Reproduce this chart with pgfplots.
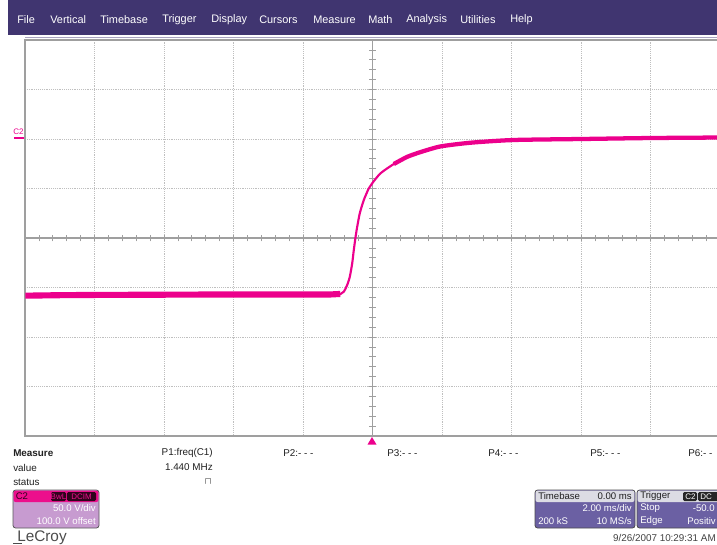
\documentclass[border=0pt]{standalone}
\usepackage{pgfplots}
\pgfplotsset{compat=1.18}
\usepackage{fontspec}
\setmainfont{Liberation Sans}
\definecolor{menu}{HTML}{403570}
\definecolor{trace}{HTML}{EC008C}
\definecolor{lilac}{HTML}{C79BD0}
\definecolor{pinkhdr}{HTML}{EC0F8C}
\definecolor{tbbody}{HTML}{6B60A3}
\definecolor{tbhdr}{HTML}{DCDCE4}
\definecolor{txt}{HTML}{202020}
\begin{document}
\begin{tikzpicture}
\begin{scope}[x=0.75pt,y=-0.75pt]
\fill[white] (0,0) rectangle (717,544);
\fill[menu] (8,0) rectangle (725,35);
\foreach \xx/\tt in {17/File,50/Vertical,100/Timebase,162/Trigger,211/Display,259/Cursors,313/Measure,368/Math,406/Analysis,460/Utilities,510/Help}
  \node[anchor=west,text=white,inner sep=0,font=\fontsize{8.2}{10}\selectfont] at (\xx,20) {\tt};
\draw[menu!45,line width=0.9pt] (25,37.5) -- (725,37.5);
\end{scope}
\begin{axis}[
  at={(18.75pt,-327pt)}, anchor=south west,
  width=521.25pt, height=297pt, scale only axis,
  xmin=-10, xmax=10, ymin=-4, ymax=4,
  xtick={-10,-8,...,10}, ytick={-4,-3,...,4},
  xticklabels={}, yticklabels={},
  major tick length=0pt,
  grid=major,
  major grid style={densely dotted, gray!50, line width=0.6pt},
  axis line style={gray!75, line width=0.9pt},
]
\draw[gray!75, line width=0.8pt] (axis cs:-10,0) -- (axis cs:10,0);
\draw[gray!75, line width=0.8pt] (axis cs:0,-4) -- (axis cs:0,4);
\pgfplotsinvokeforeach{-9.6,-9.2,...,9.7}{\draw[gray!75,line width=0.6pt] (axis cs:#1,-0.07) -- (axis cs:#1,0.07);}
\pgfplotsinvokeforeach{-3.8,-3.6,...,3.9}{\draw[gray!75,line width=0.6pt] (axis cs:-0.09,#1) -- (axis cs:0.09,#1);}
% low level
\addplot[trace, line width=4.6pt, line cap=butt] coordinates {
(-9.99,-1.165) (-9.0,-1.155) (-8,-1.15) (-6,-1.145) (-4,-1.14) (-2,-1.14) (-1.2,-1.14) (-0.93,-1.13)
};
% rise
\addplot[trace, line width=1.6pt, smooth, tension=0.4] coordinates {
(-1.2,-1.14) (-0.921,-1.131) (-0.826,-1.085) (-0.728,-0.949) (-0.653,-0.782) (-0.584,-0.511)
(-0.538,-0.242) (-0.489,0.014) (-0.440,0.228) (-0.366,0.499) (-0.250,0.768) (-0.106,1.004)
(-0.009,1.105) (0.230,1.307) (0.613,1.495) (1.0,1.64) (1.4,1.74) (1.957,1.85)
};
% high level
\addplot[trace, line width=3.2pt, smooth, tension=0.4] coordinates {
(0.613,1.495) (1.0,1.64) (1.4,1.74) (1.957,1.85) (2.82,1.925) (4.06,1.98) (6,2.0) (8,2.02) (10,2.03)
};
\end{axis}
\begin{scope}[x=0.75pt,y=-0.75pt]
% trigger marker
\fill[trace] (367.5,444.5) -- (376.5,444.5) -- (372,437) -- cycle;
% C2 marker
\node[text=trace,inner sep=0,font=\fontsize{6}{7}\selectfont] at (18.5,131.5) {C2};
\draw[trace,line width=1.5pt] (14,138) -- (24,138);
% measure table
\begin{scope}[every node/.style={inner sep=0,text=txt,font=\fontsize{7.4}{9}\selectfont}]
\node[anchor=west,font=\fontsize{7.4}{9}\selectfont\bfseries] at (13,453) {Measure};
\node[anchor=west] at (13,467.5) {value};
\node[anchor=west] at (13,482) {status};
\node[anchor=east] at (213,453) {P1:freq(C1)};
\node[anchor=east] at (213,467.5) {1.440 MHz};
\node[anchor=east] at (212,482) {$\sqcap$};
\node[anchor=west] at (283,453) {P2:- - -};
\node[anchor=west] at (387,453) {P3:- - -};
\node[anchor=west] at (488,453) {P4:- - -};
\node[anchor=west] at (590,453) {P5:- - -};
\node[anchor=west] at (688,453) {P6:- -};
\node[anchor=east,text=txt!85] at (716,538) {9/26/2007 10:29:31 AM};
\end{scope}
% C2 box
\draw[fill=lilac,draw=gray!70!black,rounded corners=2pt,line width=0.6pt] (13,490) rectangle (99,528);
\fill[pinkhdr,rounded corners=1.5pt] (13.6,490.6) rectangle (98.4,502);
\fill[black!80!pinkhdr,rounded corners=1pt] (51,492) rectangle (66,501);
\fill[black!80!pinkhdr,rounded corners=1pt] (67,492) rectangle (96,501);
\begin{scope}[every node/.style={inner sep=0,font=\fontsize{7.2}{9}\selectfont}]
\node[anchor=west,text=black!80!pinkhdr] at (15.5,496.3) {C2};
\node[text=pinkhdr,font=\fontsize{6}{7}\selectfont] at (58.5,496.5) {BwL};
\node[text=pinkhdr,font=\fontsize{6}{7}\selectfont] at (81.5,496.5) {DCIM};
\node[anchor=east,text=white] at (96,508) {50.0 V/div};
\node[anchor=east,text=white] at (96,521) {100.0 V offset};
\end{scope}
% Timebase box
\draw[fill=tbbody,draw=gray!60!black,rounded corners=2pt,line width=0.6pt] (535,490) rectangle (635,528);
\fill[tbhdr,rounded corners=1.5pt] (535.6,490.6) rectangle (634.4,502);
\draw[fill=tbbody,draw=gray!60!black,rounded corners=2pt,line width=0.6pt] (637,490) rectangle (740,528);
\fill[tbhdr,rounded corners=1.5pt] (637.6,490.6) rectangle (739,502);
\fill[black!85,rounded corners=1pt] (683,492) rectangle (697,501);
\fill[black!85,rounded corners=1pt] (698,492) rectangle (720,501);
\begin{scope}[every node/.style={inner sep=0,font=\fontsize{7.2}{9}\selectfont}]
\node[anchor=west,text=txt] at (538,496.5) {Timebase};
\node[anchor=east,text=txt] at (632,496.5) {0.00 ms};
\node[anchor=east,text=white] at (632,508) {2.00 ms/div};
\node[anchor=west,text=white] at (538,521) {200 kS};
\node[anchor=east,text=white] at (632,521) {10 MS/s};
\node[anchor=west,text=txt] at (640,496.5) {Trigger};
\node[anchor=west,text=white,font=\fontsize{6}{7}\selectfont] at (685,496.5) {C2};
\node[anchor=west,text=white,font=\fontsize{6}{7}\selectfont] at (700,496.5) {DC};
\node[anchor=west,text=white] at (640,508) {Stop};
\node[anchor=east,text=white] at (715,508) {-50.0};
\node[anchor=west,text=white] at (640,521) {Edge};
\node[anchor=east,text=white] at (716,521) {Positiv};
\end{scope}
% LeCroy logo
\node[anchor=west,inner sep=0,text=black!70,font=\fontsize{11.5}{13}\selectfont] at (17,537.5) {LeCroy};
\draw[black!70,line width=0.8pt] (13,543.5) -- (22,543.5);
\end{scope}
\pgfresetboundingbox
\useasboundingbox (0,0) rectangle (537.75pt,-408pt);
\end{tikzpicture}
\end{document}
